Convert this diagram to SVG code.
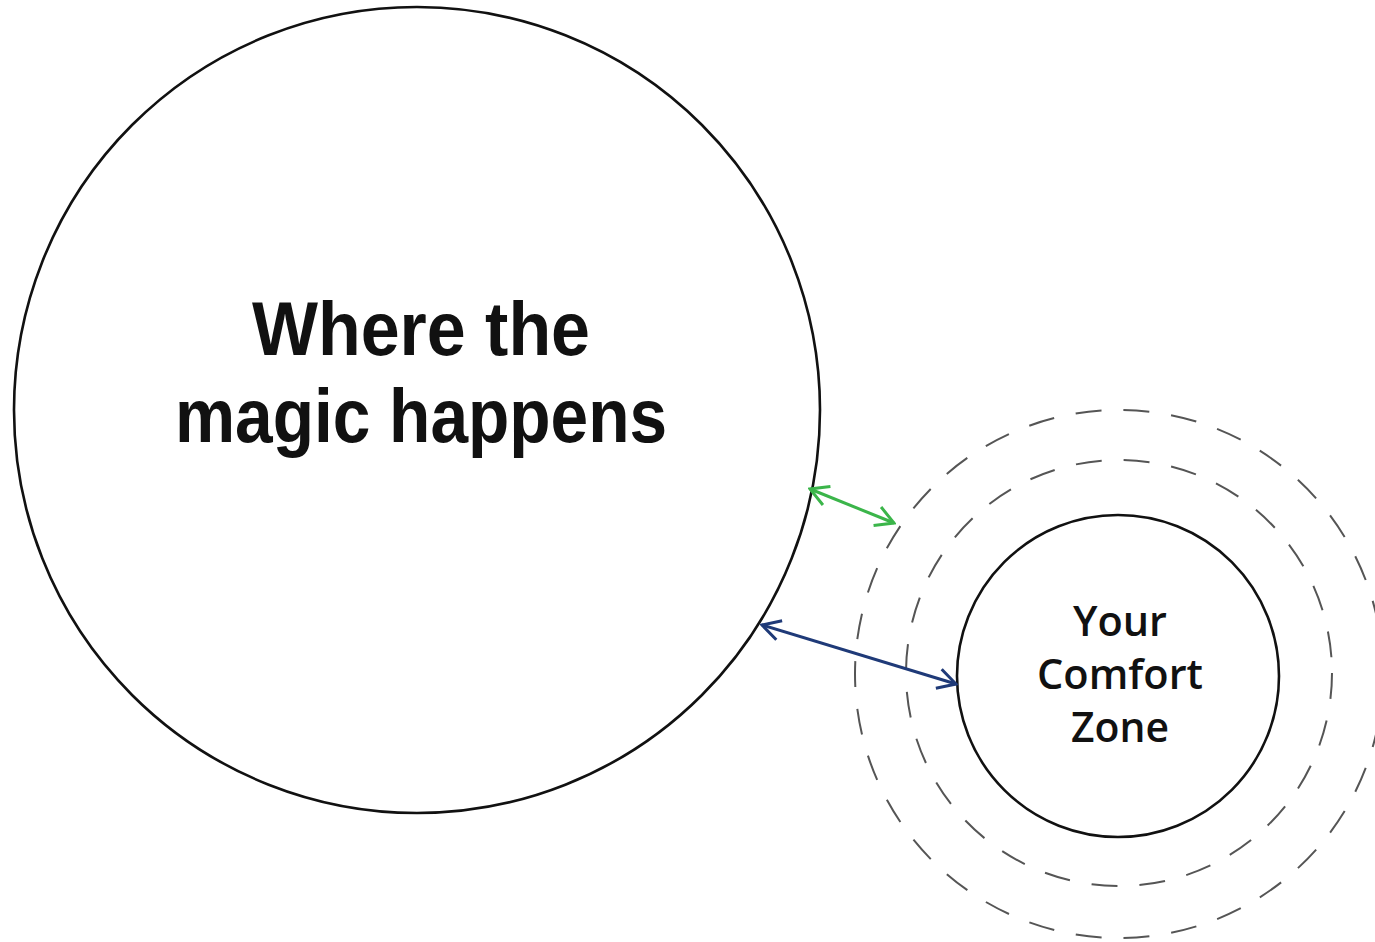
<svg xmlns="http://www.w3.org/2000/svg" width="1375" height="942" viewBox="0 0 1375 942">
<style>
.node{fill:none;stroke:#111;stroke-width:2.6}
.dash{fill:none;stroke:#555;stroke-width:2;stroke-dasharray:26 22}
.big{font-family:"Liberation Sans","DejaVu Sans",sans-serif;font-weight:bold;font-size:76px;fill:#111;text-anchor:middle}
.small{font-family:"Open Sans","DejaVu Sans",sans-serif;font-weight:600;font-size:41px;fill:#111;text-anchor:middle}
.green{stroke:#3bb54a;stroke-width:3;fill:none}
.blue{stroke:#1f3a78;stroke-width:3;fill:none}
</style>
<defs>
<marker id="hg" viewBox="0 0 24 24" refX="22" refY="12" markerWidth="24" markerHeight="24" markerUnits="userSpaceOnUse" orient="auto-start-reverse">
<path d="M4,2 L22,12 L4,22" fill="none" stroke="#3bb54a" stroke-width="3"/>
</marker>
<marker id="hb" viewBox="0 0 24 24" refX="22" refY="12" markerWidth="24" markerHeight="24" markerUnits="userSpaceOnUse" orient="auto-start-reverse">
<path d="M4,2 L22,12 L4,22" fill="none" stroke="#1f3a78" stroke-width="3"/>
</marker>
</defs>
<rect width="1375" height="942" fill="#fff"/>
<g id="rings">
<circle class="dash" cx="1119" cy="674" r="264"/>
<circle class="dash" cx="1119" cy="673" r="213"/>
</g>
<g id="magic">
<circle class="node" cx="417" cy="410" r="403"/>
<text class="big" x="421" y="355" textLength="338" lengthAdjust="spacingAndGlyphs">Where the</text>
<text class="big" x="421" y="442" textLength="492" lengthAdjust="spacingAndGlyphs">magic happens</text>
</g>
<g id="comfort">
<circle class="node" cx="1118" cy="676" r="161"/>
<text class="small" x="1120" y="636" textLength="94" lengthAdjust="spacingAndGlyphs">Your</text>
<text class="small" x="1120" y="689" textLength="166" lengthAdjust="spacingAndGlyphs">Comfort</text>
<text class="small" x="1120" y="742" textLength="98" lengthAdjust="spacingAndGlyphs">Zone</text>
</g>
<g id="connectors">
<line class="green" x1="810" y1="489" x2="894" y2="523" marker-start="url(#hg)" marker-end="url(#hg)"/>
<line class="blue" x1="762" y1="625" x2="956" y2="684" marker-start="url(#hb)" marker-end="url(#hb)"/>
</g>
</svg>
